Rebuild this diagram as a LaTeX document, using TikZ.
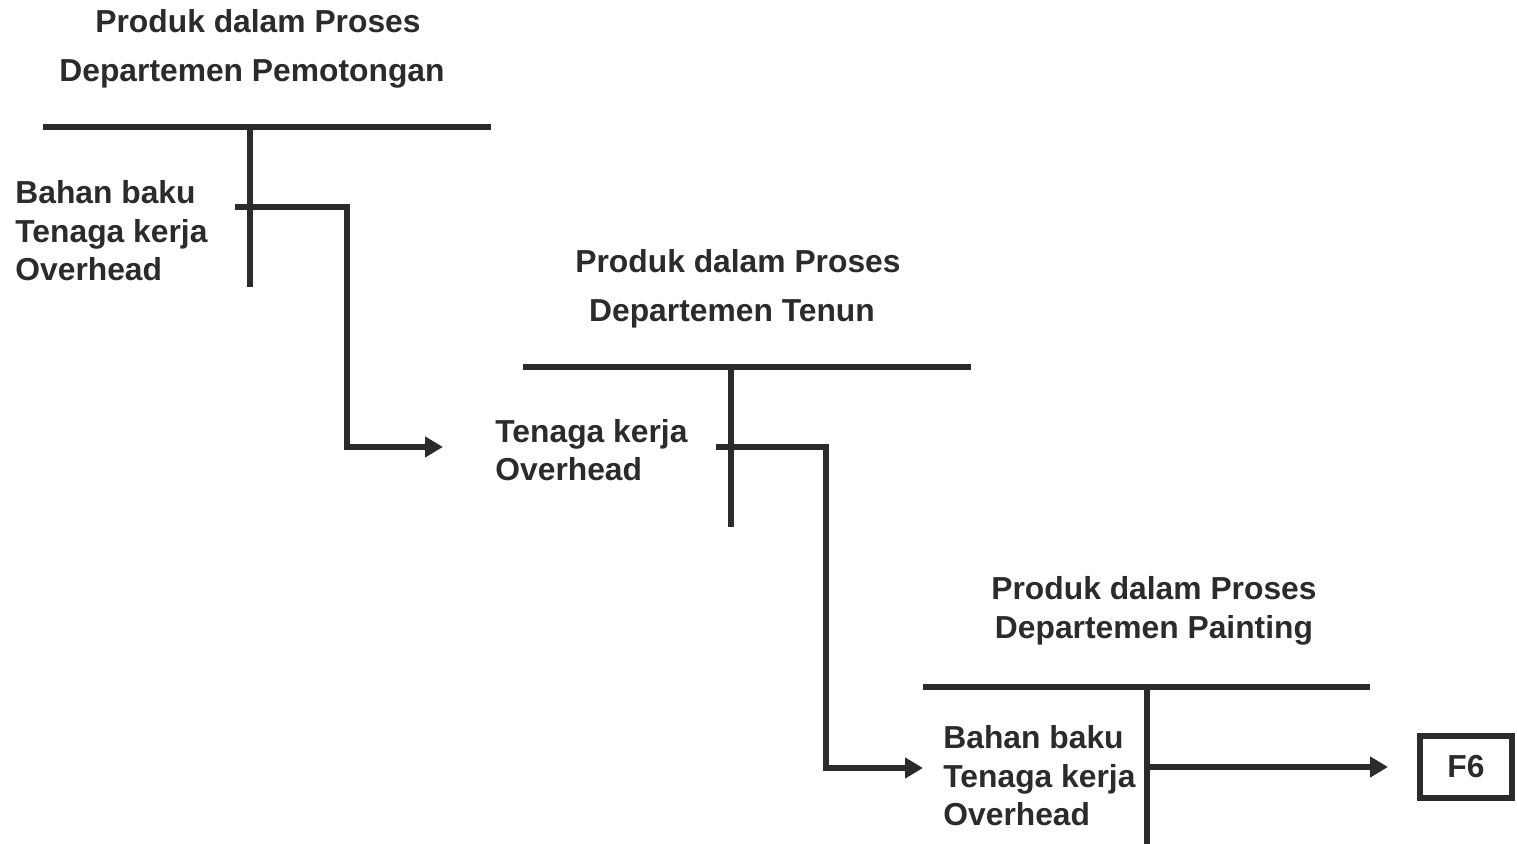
\documentclass[tikz,border=0pt]{standalone}
\usepackage{fontspec}
\setmainfont{Liberation Sans}
\usetikzlibrary{arrows.meta}
\definecolor{ink}{HTML}{2B2B2B}
\tikzset{
  lbl/.style={font=\bfseries\fontsize{15.9}{19}\selectfont, text=ink, inner sep=0pt},
  acct/.style={draw=ink, line width=2.8pt},
  flow/.style={draw=ink, line width=2.6pt, -{Triangle[length=9pt,width=10pt]}},
  boxf/.style={draw=ink, line width=2.6pt, minimum width=46pt, minimum height=31pt, inner sep=0pt, font=\bfseries\fontsize{15.9}{19}\selectfont, text=ink}
}
\begin{document}
\begin{tikzpicture}[x=0.5pt,y=-0.5pt]
\useasboundingbox (0,0) rectangle (1517,844);
% Block 1
\node[lbl, anchor=base] (t1a) at (258,33) {Produk dalam Proses};
\node[lbl, anchor=base] (t1b) at (252,82) {Departemen Pemotongan};
\draw[acct] (43,127) -- (491,127);
\draw[acct] (250,127) -- (250,287);
\node[lbl, anchor=base west] (l1a) at (15,204) {Bahan baku};
\node[lbl, anchor=base west] (l1b) at (15,243) {Tenaga kerja};
\node[lbl, anchor=base west] (l1c) at (15,281) {Overhead};
% Block 2
\node[lbl, anchor=base] (t2a) at (738,273) {Produk dalam Proses};
\node[lbl, anchor=base] (t2b) at (732,322) {Departemen Tenun};
\draw[acct] (523,367) -- (971,367);
\draw[acct] (731,367) -- (731,527);
\node[lbl, anchor=base west] (l2a) at (495,443) {Tenaga kerja};
\node[lbl, anchor=base west] (l2b) at (495,481) {Overhead};
% Block 3
\node[lbl, anchor=base] (t3a) at (1154,600) {Produk dalam Proses};
\node[lbl, anchor=base] (t3b) at (1154,639) {Departemen Painting};
\draw[acct] (923,687) -- (1370,687);
\draw[acct] (1147,687) -- (1147,844);
\node[lbl, anchor=base west] (l3a) at (943,748) {Bahan baku};
\node[lbl, anchor=base west] (l3b) at (943,787) {Tenaga kerja};
\node[lbl, anchor=base west] (l3c) at (943,825) {Overhead};
% F6
\node[boxf] (f6) at (1466,767) {F6};
% connectors
\coordinate (s1) at (235,207);
\coordinate (e1) at (443,447);
\coordinate (s2) at (716,447);
\coordinate (e2) at (923,768);
\coordinate (s3) at (1147,767);
\coordinate (e3) at (1388,767);
\draw[flow] (s1) -- (347,207) -- (347,447) -- (e1);
\draw[flow] (s2) -- (826,447) -- (826,768) -- (e2);
\draw[flow] (s3) -- (e3);
\end{tikzpicture}
\end{document}
